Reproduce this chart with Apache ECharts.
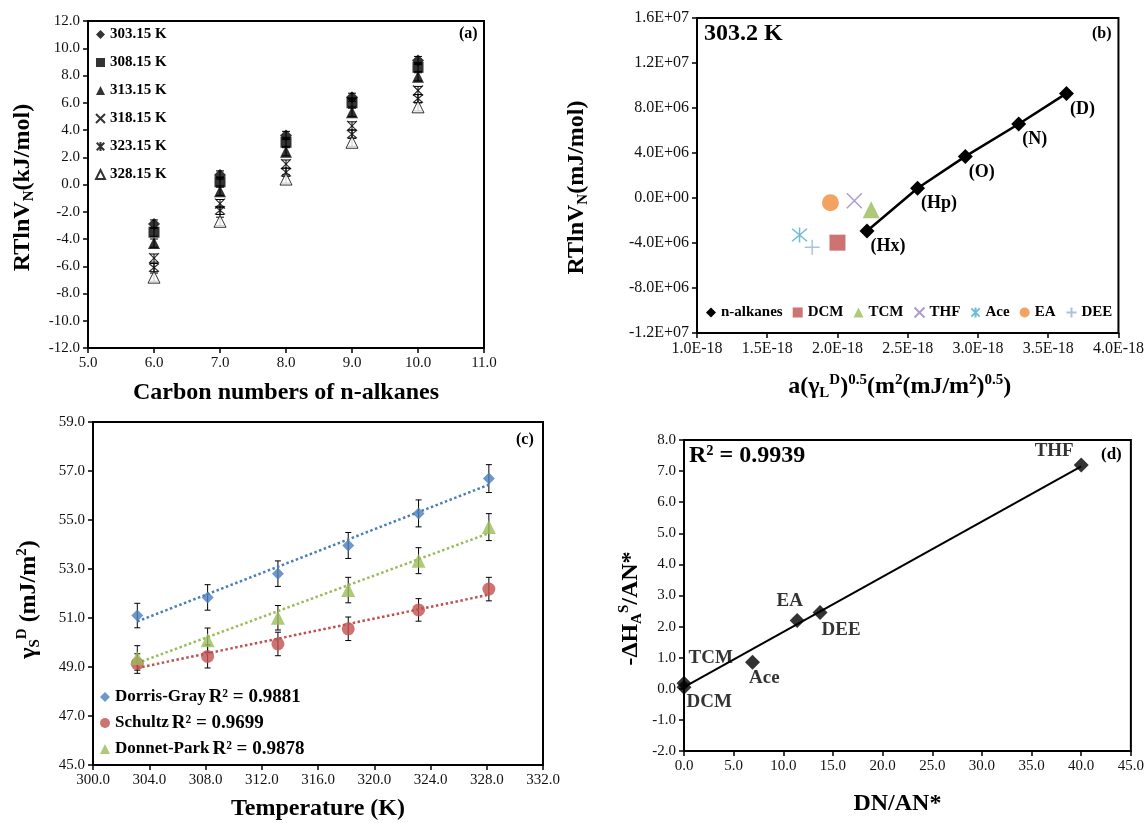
<!DOCTYPE html>
<html>
<head>
<meta charset="utf-8">
<script src="https://cdn.jsdelivr.net/npm/echarts@6/dist/echarts.min.js"></script>
<style>html,body{margin:0;padding:0;background:#fff}#c{width:1147px;height:823px}</style>
</head>
<body>
<div id="c"></div>
<script>
// ---------- Panel (a): RTlnVN vs carbon number ----------
const carbonNumbers = [6, 7, 8, 9, 10];
const tempLabels = ['303.15 K', '308.15 K', '313.15 K', '318.15 K', '323.15 K', '328.15 K'];
const rt30315 = [-2.9, 0.7, 3.6, 6.4, 9.1];
const rt30815 = [-3.5, 0.2, 3.1, 6.0, 8.6];
const rt31315 = [-4.3, -0.5, 2.4, 5.3, 7.9];
const rt31815 = [-5.4, -1.4, 1.5, 4.3, 6.9];
const rt32315 = [-6.1, -1.9, 0.9, 3.7, 6.3];
const rt32815 = [-6.8, -2.7, 0.4, 3.1, 5.7];
const errA = [0.3, 0.3, 0.3, 0.3, 0.3];

// ---------- Panel (b): 303.2 K ----------
// x values in units of 1E-18
const alkaneNames = ['(Hx)', '(Hp)', '(O)', '(N)', '(D)'];
const alkaneX = [2.21, 2.57, 2.91, 3.29, 3.63];
const alkaneY = [-2.93e6, 0.86e6, 3.70e6, 6.58e6, 9.30e6];
const probeNames = ['DCM', 'TCM', 'THF', 'Ace', 'EA', 'DEE'];
const probeX = [2.00, 2.24, 2.12, 1.73, 1.95, 1.82];
const probeY = [-3.97e6, -1.04e6, -0.24e6, -3.29e6, -0.42e6, -4.38e6];

// ---------- Panel (c): dispersive surface energy ----------
const temps = [303.15, 308.15, 313.15, 318.15, 323.15, 328.15];
const dorrisGray = [51.10, 51.84, 52.81, 53.96, 55.27, 56.69];
const schultz = [49.14, 49.43, 49.94, 50.56, 51.33, 52.18];
const donnetPark = [49.37, 50.09, 51.01, 52.14, 53.34, 54.71];
const errDG = [0.50, 0.52, 0.52, 0.53, 0.55, 0.57];
const errSc = [0.40, 0.47, 0.48, 0.48, 0.46, 0.48];
const errDP = [0.50, 0.50, 0.50, 0.52, 0.53, 0.55];
const trendT = [303.15, 328.15];
const trendDG = [50.86, 56.44];
const trendSc = [48.96, 51.95];
const trendDP = [49.16, 54.46];
const methodNames = ['Dorris-Gray', 'Schultz', 'Donnet-Park'];
const methodR2 = ['0.9881', '0.9699', '0.9878'];

// ---------- Panel (d): acid-base ----------
const solventNames = ['DCM', 'TCM', 'Ace', 'EA', 'DEE', 'THF'];
const dnAn = [0.0, 0.0, 6.9, 11.4, 13.7, 40.0];
const dhAn = [0.05, 0.18, 0.85, 2.2, 2.45, 7.2];
const trendDX = [0.0, 40.0];
const trendDY = [0.05, 7.15];

const FF = 'Liberation Serif';
const SYM_X = 'path://M0,0L10,10M10,0L0,10';
const SYM_STAR = 'path://M0,0L10,10M10,0L0,10M5,-1L5,11';
const SYM_PLUS = 'path://M5,0L5,10M0,5L10,5';

function fmtFixed(v) { return v.toFixed(1); }
function fmtExp(v) {
  if (Math.abs(v) < 1e-9) return '0.0E+00';
  const e = Math.floor(Math.log10(Math.abs(v)) + 1e-9);
  const m = v / Math.pow(10, e);
  return m.toFixed(1) + 'E' + (e < 0 ? '-' : '+') + String(Math.abs(e)).padStart(2, '0');
}
function fmtE18(v) { return v.toFixed(1) + 'E-18'; }

function axis(grid, min, max, interval, fmt, name, nameGap, nameRich, pad, labelSize) {
  return {
    type: 'value', gridIndex: grid, min: min, max: max, interval: interval,
    axisLine: { show: true, onZero: false, lineStyle: { color: '#000', width: 2 } },
    axisTick: { show: true, length: 5, lineStyle: { color: '#000', width: 1.5 } },
    axisLabel: { color: '#111', fontSize: labelSize || 15, fontFamily: FF, formatter: fmt, margin: 8, showMinLabel: true, showMaxLabel: true },
    splitLine: { show: false },
    name: name, nameLocation: 'middle', nameGap: nameGap,
    nameTextStyle: { rich: nameRich, fontFamily: FF, fontWeight: 'bold', fontSize: 24, color: '#000', padding: pad || 0 }
  };
}
const R = {
  b: { fontSize: 24, fontWeight: 'bold', fontFamily: FF, color: '#000', lineHeight: 28, verticalAlign: 'middle' },
  s: { fontSize: 15, fontWeight: 'bold', fontFamily: FF, color: '#000', lineHeight: 13, verticalAlign: 'bottom' },
  u: { fontSize: 15, fontWeight: 'bold', fontFamily: FF, color: '#000', lineHeight: 13, verticalAlign: 'top' }
};

function errSeries(name, xs, ys, errs, xi, yi, w) {
  return {
    type: 'custom', name: name, xAxisIndex: xi, yAxisIndex: yi, z: 1, silent: true,
    data: xs.map((x, i) => [x, ys[i] - errs[i], ys[i] + errs[i]]),
    encode: { x: 0, y: [1, 2] },
    renderItem: function (params, api) {
      const x = api.value(0);
      const lo = api.coord([x, api.value(1)]);
      const hi = api.coord([x, api.value(2)]);
      const st = { stroke: '#000', lineWidth: 1 };
      return { type: 'group', children: [
        { type: 'line', shape: { x1: lo[0], y1: lo[1], x2: hi[0], y2: hi[1] }, style: st },
        { type: 'line', shape: { x1: lo[0] - w, y1: lo[1], x2: lo[0] + w, y2: lo[1] }, style: st },
        { type: 'line', shape: { x1: hi[0] - w, y1: hi[1], x2: hi[0] + w, y2: hi[1] }, style: st }
      ]};
    }
  };
}
function zip(a, b) { return a.map((v, i) => [v, b[i]]); }

const seriesA = [rt30315, rt30815, rt31315, rt31815, rt32315, rt32815];
const styleA = [
  { symbol: 'diamond', symbolSize: 12, itemStyle: { color: '#000' } },
  { symbol: 'rect', symbolSize: 11, itemStyle: { color: '#000' } },
  { symbol: 'triangle', symbolSize: 12, itemStyle: { color: '#000' } },
  { symbol: SYM_X, symbolSize: 10, itemStyle: { color: 'rgba(0,0,0,0)', borderColor: '#000', borderWidth: 1.2 } },
  { symbol: SYM_STAR, symbolSize: 10, itemStyle: { color: 'rgba(0,0,0,0)', borderColor: '#000', borderWidth: 1.2 } },
  { symbol: 'triangle', symbolSize: 12, itemStyle: { color: '#fff', borderColor: '#000', borderWidth: 1 } }
];

const series = [];
seriesA.forEach((ys, k) => {
  series.push(errSeries('errA' + k, carbonNumbers, ys, errA, 0, 0, 4));
  series.push(Object.assign({ type: 'scatter', name: tempLabels[k], xAxisIndex: 0, yAxisIndex: 0, z: 3, data: zip(carbonNumbers, ys) }, styleA[k]));
});

// panel b
series.push({
  type: 'line', name: 'n-alkanes', xAxisIndex: 1, yAxisIndex: 1, z: 3,
  data: zip(alkaneX, alkaneY), symbol: 'diamond', symbolSize: 15,
  itemStyle: { color: '#000' }, lineStyle: { color: '#000', width: 2.5 },
  label: { show: true, formatter: p => alkaneNames[p.dataIndex], position: [11, 14], align: 'left', verticalAlign: 'top',
    fontFamily: FF, fontWeight: 'bold', fontSize: 18, color: '#000' }
});
const probeStyle = [
  { symbol: 'rect', symbolSize: 16, itemStyle: { color: '#C0504D' } },
  { symbol: 'triangle', symbolSize: 17, itemStyle: { color: '#9BBB59' } },
  { symbol: SYM_X, symbolSize: 15, itemStyle: { color: 'rgba(0,0,0,0)', borderColor: '#9A84BE', borderWidth: 1.5 } },
  { symbol: SYM_STAR, symbolSize: 15, itemStyle: { color: 'rgba(0,0,0,0)', borderColor: '#4BACC6', borderWidth: 1.5 } },
  { symbol: 'circle', symbolSize: 17, itemStyle: { color: '#F08C3A' } },
  { symbol: SYM_PLUS, symbolSize: 15, itemStyle: { color: 'rgba(0,0,0,0)', borderColor: '#95B3D7', borderWidth: 1.5 } }
];
probeNames.forEach((n, i) => {
  series.push(Object.assign({ type: 'scatter', name: n, xAxisIndex: 1, yAxisIndex: 1, z: 3, data: [[probeX[i], probeY[i]]] }, probeStyle[i]));
});

// panel c
const cSets = [
  [methodNames[0], dorrisGray, errDG, trendDG, '#4A7EBB', 'diamond', 12],
  [methodNames[1], schultz, errSc, trendSc, '#C0504D', 'circle', 13],
  [methodNames[2], donnetPark, errDP, trendDP, '#9BBB59', 'triangle', 14]
];
cSets.forEach((s, k) => {
  series.push({ type: 'line', name: 'trend' + k, xAxisIndex: 2, yAxisIndex: 2, z: 1, symbol: 'none', silent: true,
    data: zip(trendT, s[3]), lineStyle: { color: s[4], width: 2.5, type: 'dotted' } });
  series.push(errSeries('errC' + k, temps, s[1], s[2], 2, 2, 3));
  series.push({ type: 'scatter', name: s[0], xAxisIndex: 2, yAxisIndex: 2, z: 3, symbol: s[5], symbolSize: s[6],
    data: zip(temps, s[1]), itemStyle: { color: s[4] } });
});

// panel d
const dLabelPos = {
  DCM: { position: [10, 22], align: 'left' }, TCM: { position: [12, -18], align: 'left' },
  Ace: { position: [4, 23], align: 'left' }, EA: { position: [0, -12], align: 'center' },
  DEE: { position: [9, 25], align: 'left' }, THF: { position: [0, -6], align: 'right' }
};
series.push({ type: 'line', name: 'trendD', xAxisIndex: 3, yAxisIndex: 3, z: 1, symbol: 'none', silent: true,
  data: zip(trendDX, trendDY), lineStyle: { color: '#000', width: 2 } });
series.push({ type: 'scatter', name: 'solvents', xAxisIndex: 3, yAxisIndex: 3, z: 3, symbol: 'diamond', symbolSize: 15,
  itemStyle: { color: '#000' },
  data: solventNames.map((n, i) => ({
    value: [dnAn[i], dhAn[i]],
    label: Object.assign({ show: true, formatter: n, verticalAlign: 'middle', fontFamily: FF, fontWeight: 'bold', fontSize: 19, color: '#000' }, dLabelPos[n])
  }))
});

const legendText = { fontFamily: FF, fontWeight: 'bold', fontSize: 15, lineHeight: 15, color: '#000' };
const option = {
  animation: false,
  backgroundColor: '#fff',
  textStyle: { fontFamily: FF },
  grid: [
    { left: 88, top: 21, width: 396, height: 327, show: true, borderColor: '#000', borderWidth: 2, backgroundColor: 'transparent' },
    { left: 697, top: 18, width: 425, height: 315, show: true, borderColor: '#000', borderWidth: 2, backgroundColor: 'transparent' },
    { left: 93, top: 422, width: 450, height: 343, show: true, borderColor: '#000', borderWidth: 2, backgroundColor: 'transparent' },
    { left: 684, top: 440, width: 447, height: 311, show: true, borderColor: '#000', borderWidth: 2, backgroundColor: 'transparent' }
  ],
  xAxis: [
    axis(0, 5, 11, 1, fmtFixed, 'Carbon numbers of n-alkanes', 33, R),
    axis(1, 1.0, 4.0, 0.5, fmtE18, '{b|a(γ}{s|L}{u|D}{b|)}{u|0.5}{b|(m}{u|2}{b|(mJ/m}{u|2}{b|)}{u|0.5}{b|)}', 40, R, [0, 16, 0, 0], 16),
    axis(2, 300, 332, 4, fmtFixed, 'Temperature (K)', 32, R),
    axis(3, 0, 45, 5, fmtFixed, 'DN/AN*', 41, R, [0, 20, 0, 0])
  ],
  yAxis: [
    axis(0, -12, 12, 2, fmtFixed, '{b|RTlnV}{s|N}{b|(kJ/mol)}', 51, R, [0, 6, 0, 0]),
    axis(1, -1.2e7, 1.6e7, 4e6, fmtExp, '{b|RTlnV}{s|N}{b|(mJ/mol)}', 106, R, [0, 24, 0, 0], 16),
    axis(2, 45, 59, 2, fmtFixed, '{b|γ}{s|S}{u|D}{b| (mJ/m}{u|2}{b|)}', 50, R, [0, 12, 0, 0]),
    axis(3, -2, 8, 1, fmtFixed, '{b|-ΔH}{s|A}{u|S}{b|/AN*}', 39, R, [0, 26, 0, 0])
  ],
  legend: [
    { left: 95, top: 27, orient: 'vertical', itemWidth: 9, itemHeight: 9, itemGap: 13, padding: 0, selectedMode: false,
      textStyle: legendText, data: tempLabels },
    { left: 706, top: 305, orient: 'horizontal', itemWidth: 10, itemHeight: 10, itemGap: 10, padding: 0, selectedMode: false,
      textStyle: legendText,
      data: [{ name: 'n-alkanes', icon: 'diamond' }].concat(probeNames) },
    { left: 100, top: 687, orient: 'vertical', itemWidth: 10, itemHeight: 10, itemGap: 6, padding: 0, selectedMode: false,
      textStyle: { fontFamily: FF, color: '#000', lineHeight: 20,
        rich: { n: { fontSize: 17, fontWeight: 'bold', fontFamily: FF, color: '#000' },
                r: { fontSize: 19, fontWeight: 'bold', fontFamily: FF, color: '#000' } } },
      formatter: name => '{n|' + name + '} {r|R² = ' + methodR2[methodNames.indexOf(name)] + '}',
      data: methodNames }
  ],
  graphic: [
    { type: 'text', left: 459, top: 26, style: { text: '(a)', font: 'bold 16px "Liberation Serif"', fill: '#000' } },
    { type: 'text', left: 1092, top: 26, style: { text: '(b)', font: 'bold 16px "Liberation Serif"', fill: '#000' } },
    { type: 'text', left: 516, top: 432, style: { text: '(c)', font: 'bold 16px "Liberation Serif"', fill: '#000' } },
    { type: 'text', left: 1101, top: 446, style: { text: '(d)', font: 'bold 17px "Liberation Serif"', fill: '#000' } },
    { type: 'text', left: 704, top: 22, style: { text: '303.2 K', font: 'bold 24px "Liberation Serif"', fill: '#000' } },
    { type: 'text', left: 689, top: 444, style: { text: 'R² = 0.9939', font: 'bold 24px "Liberation Serif"', fill: '#000' } }
  ],
  series: series
};
const chart = echarts.init(document.getElementById('c'), null, { renderer: 'canvas' });
chart.setOption(option);
</script>
</body>
</html>
